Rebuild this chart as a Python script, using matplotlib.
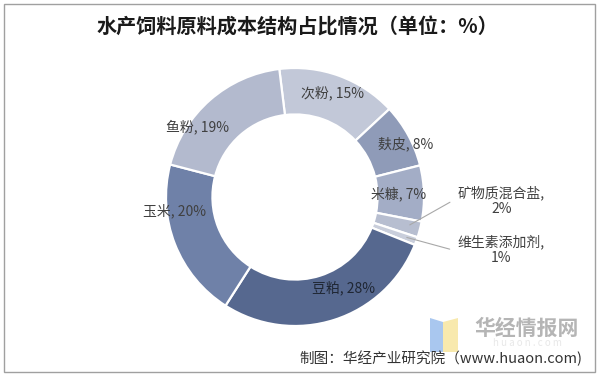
import numpy as np
import matplotlib
matplotlib.use("Agg")
import matplotlib.pyplot as plt
from matplotlib.patches import Rectangle, Polygon

plt.rcParams['font.family'] = ['Noto Sans CJK SC', 'DejaVu Sans']

# ---- data ----
categories = ['次粉', '麸皮', '米糠', '矿物质混合盐', '维生素添加剂', '豆粕', '玉米', '鱼粉']
values = [15, 8, 7, 2, 1, 28, 20, 19]
colors = ['#c2c8d8', '#8f9bb8', '#a3adc6', '#b7bed0', '#c9cedb', '#56688f', '#6f81a8', '#b3bace']
title = '水产饲料原料成本结构占比情况（单位：%）'
source = '制图：华经产业研究院（www.huaon.com)'

# label styling: radius and angle offset (deg) per slice, None -> outside label
label_r = [0.86, 0.95, 0.80, None, None, 0.80, 0.94, 0.93]
label_da = [0, -3, 0, 0, 0, 10, -15, 13]

W, H = 600, 379
fig = plt.figure(figsize=(W / 100, H / 100), dpi=100)
cx, cy, R = 295, 197, 129
ax = fig.add_axes([(cx - R) / W, (H - cy - R) / H, 2 * R / W, 2 * R / H])

wedges, _ = ax.pie(values, startangle=97, counterclock=False, colors=colors, radius=1,
                   wedgeprops=dict(width=0.36, edgecolor='white', linewidth=1.6))
ax.set_xlim(-1, 1)
ax.set_ylim(-1, 1)
ax.set_aspect('equal')
ax.axis('off')

outside_y = [-0.03, -0.41]
oi = 0
for w, cat, v, r, da in zip(wedges, categories, values, label_r, label_da):
    mid = np.deg2rad((w.theta1 + w.theta2) / 2)
    if r is not None:
        a = mid + np.deg2rad(da)
        col = '#1f2633' if v == 28 else '#404040'
        ax.text(r * np.cos(a), r * np.sin(a), f'{cat}, {v}%', ha='center', va='center',
                fontsize=10, color=col, clip_on=False)
    else:
        px, py = 0.9 * np.cos(mid), 0.9 * np.sin(mid)
        ty = outside_y[oi]
        oi += 1
        ax.annotate('', xy=(px, py), xytext=(1.22, ty),
                    arrowprops=dict(arrowstyle='-', color='#a8a8a8', lw=0.8),
                    annotation_clip=False)
        ax.text(1.60, ty, f'{cat},\n{v}%', ha='center', va='center', fontsize=10,
                color='#404040', linespacing=1.1, clip_on=False)

# frame border
fig.add_artist(Rectangle((4 / W, (H - 372) / H), 591 / W, 368 / H, transform=fig.transFigure,
                         fill=False, edgecolor='#a0a0a0', linewidth=1.0))

fig.text(0.495, 1 - 27 / H, title, ha='center', va='center', fontsize=14.5,
         fontweight='bold', color='#1a1a1a')

# watermark logo
fig.add_artist(Polygon([(430 / W, 1 - 318 / H), (443 / W, 1 - 322 / H), (443 / W, 1 - 352 / H),
                        (430 / W, 1 - 352 / H)], closed=True, transform=fig.transFigure,
                       facecolor='#a9c7ef', edgecolor='none'))
fig.add_artist(Polygon([(443 / W, 1 - 322 / H), (458 / W, 1 - 318 / H), (458 / W, 1 - 352 / H),
                        (443 / W, 1 - 352 / H)], closed=True, transform=fig.transFigure,
                       facecolor='#f8e9ad', edgecolor='none'))
fig.text(527 / W, 1 - 328 / H, '华经情报网', ha='center', va='center', fontsize=15,
         fontweight='bold', color='#b5b5b5')
fig.text(527 / W, 1 - 343 / H, 'h u a o n . c o m', ha='center', va='center', fontsize=7,
         color='#e8e8e8')

fig.text(582 / W, 1 - 358 / H, source, ha='right', va='center', fontsize=10.5, color='#333333')

fig.savefig('out.png', dpi=100)
